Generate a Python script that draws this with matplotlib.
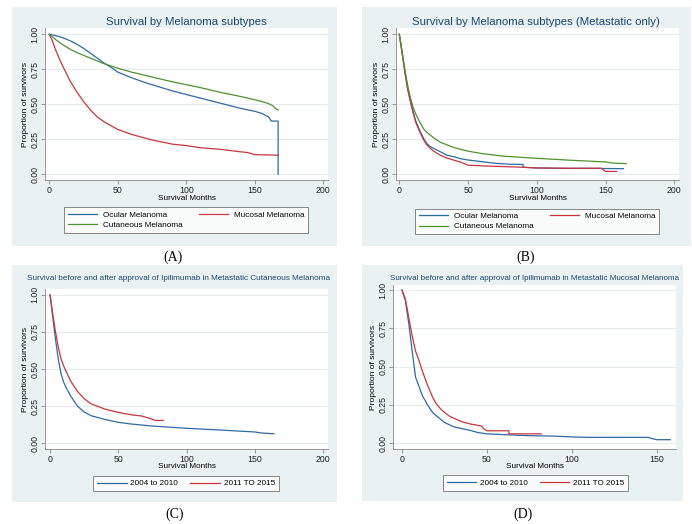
import matplotlib
matplotlib.use("Agg")
import matplotlib.pyplot as plt
from matplotlib.patches import Rectangle

W, H = 692, 524

# ---- data ----
# (A) all stages
a_ocular_x = [0, 5, 10, 15, 20, 25, 30, 35, 40, 45, 50, 60, 70, 80, 90, 100, 110, 120, 130, 140, 145, 150, 155, 158, 160, 162, 167, 167]
a_ocular_y = [1.0, 0.99, 0.975, 0.955, 0.93, 0.90, 0.865, 0.83, 0.795, 0.765, 0.73, 0.69, 0.655, 0.625, 0.595, 0.57, 0.545, 0.52, 0.495, 0.47, 0.46, 0.45, 0.435, 0.42, 0.41, 0.38, 0.38, 0.0]
a_mucosal_x = [0, 2, 5, 8, 10, 15, 20, 25, 30, 35, 40, 50, 60, 75, 90, 100, 110, 125, 140, 145, 150, 160, 167]
a_mucosal_y = [1.0, 0.96, 0.88, 0.81, 0.77, 0.67, 0.59, 0.52, 0.46, 0.41, 0.375, 0.32, 0.285, 0.245, 0.215, 0.205, 0.19, 0.178, 0.16, 0.155, 0.14, 0.138, 0.136]
a_cutan_x = [0, 5, 10, 15, 20, 30, 40, 50, 60, 75, 90, 100, 110, 125, 140, 150, 155, 160, 163, 165, 167]
a_cutan_y = [1.0, 0.96, 0.925, 0.895, 0.87, 0.83, 0.79, 0.758, 0.73, 0.695, 0.66, 0.64, 0.62, 0.585, 0.555, 0.532, 0.52, 0.505, 0.49, 0.47, 0.46]

# (B) metastatic only
b_ocular_x = [0, 2, 4, 6, 8, 10, 12, 15, 18, 20, 22, 25, 30, 35, 40, 45, 50, 60, 70, 80, 90, 90, 100, 120, 140, 163]
b_ocular_y = [1, 0.87, 0.74, 0.62, 0.53, 0.45, 0.38, 0.31, 0.25, 0.22, 0.2, 0.185, 0.16, 0.135, 0.125, 0.11, 0.102, 0.09, 0.078, 0.072, 0.07, 0.05, 0.045, 0.042, 0.042, 0.04]
b_mucosal_x = [0, 2, 4, 6, 8, 10, 12, 15, 18, 20, 22, 25, 30, 35, 40, 45, 50, 60, 75, 90, 100, 125, 147, 150, 158]
b_mucosal_y = [1, 0.87, 0.73, 0.61, 0.52, 0.44, 0.37, 0.3, 0.24, 0.21, 0.19, 0.165, 0.135, 0.115, 0.1, 0.085, 0.065, 0.06, 0.055, 0.05, 0.045, 0.043, 0.043, 0.02, 0.02]
b_cutan_x = [0, 2, 4, 6, 8, 10, 12, 15, 18, 20, 25, 30, 40, 50, 60, 75, 90, 100, 125, 150, 155, 165]
b_cutan_y = [1, 0.88, 0.75, 0.64, 0.55, 0.48, 0.43, 0.37, 0.32, 0.3, 0.26, 0.228, 0.19, 0.165, 0.148, 0.13, 0.12, 0.114, 0.1, 0.088, 0.08, 0.076]

# (C) metastatic cutaneous, before / after ipilimumab
c_early_x = [0, 2, 4, 6, 8, 10, 12, 15, 20, 25, 30, 40, 50, 60, 75, 100, 125, 150, 155, 164]
c_early_y = [1, 0.85, 0.7, 0.57, 0.47, 0.41, 0.37, 0.32, 0.25, 0.21, 0.185, 0.16, 0.14, 0.128, 0.115, 0.1, 0.088, 0.075, 0.068, 0.063]
c_late_x = [0, 2, 4, 6, 8, 10, 12, 15, 20, 25, 30, 40, 50, 60, 67, 72, 77, 83]
c_late_y = [1, 0.87, 0.75, 0.65, 0.57, 0.52, 0.48, 0.42, 0.35, 0.30, 0.265, 0.23, 0.207, 0.19, 0.183, 0.17, 0.153, 0.153]

# (D) metastatic mucosal, before / after ipilimumab
d_early_x = [0, 2, 4, 6, 8, 10, 12, 15, 18, 20, 25, 30, 35, 40, 45, 50, 60, 75, 90, 100, 110, 145, 147, 150, 158]
d_early_y = [1, 0.93, 0.78, 0.6, 0.43, 0.37, 0.31, 0.25, 0.2, 0.18, 0.135, 0.108, 0.095, 0.083, 0.068, 0.06, 0.055, 0.048, 0.045, 0.04, 0.037, 0.037, 0.03, 0.022, 0.022]
d_late_x = [0, 2, 4, 6, 8, 10, 12, 15, 18, 20, 23, 25, 28, 30, 35, 40, 45, 47, 48, 50, 63, 63, 82]
d_late_y = [1, 0.94, 0.82, 0.7, 0.6, 0.54, 0.47, 0.38, 0.3, 0.26, 0.22, 0.2, 0.175, 0.165, 0.14, 0.125, 0.115, 0.11, 0.095, 0.08, 0.08, 0.06, 0.06]

subtype_labels = ["Ocular Melanoma", "Mucosal Melanoma", "Cutaneous Melanoma"]
period_labels = ["2004 to 2010", "2011 TO 2015"]

BLUE = "#2f6aa3"
RED = "#c8353f"
GREEN = "#4f9130"
BG = "#e9f1f2"
TITLE_C = "#1a476f"

plt.rcParams["font.family"] = ["Liberation Sans", "DejaVu Sans"]

fig = plt.figure(figsize=(W / 100, H / 100), dpi=100)


def fr(x0, y0, x1, y1):
    # pixel box (top-left origin) -> figure fraction rect
    return [x0 / W, 1 - y1 / H, (x1 - x0) / W, (y1 - y0) / H]


def panel(box, axbox, xlim, ylim, xticks, title, tsize, tx, ty, xl_y, caption, cap_xy):
    fig.patches.append(Rectangle((box[0] / W, 1 - box[3] / H), (box[2] - box[0]) / W,
                                 (box[3] - box[1]) / H, transform=fig.transFigure,
                                 facecolor=BG, edgecolor="none", zorder=-5))
    ax = fig.add_axes(fr(*axbox))
    ax.set_zorder(2)
    ax.set_facecolor("white")
    ax.set_xlim(*xlim)
    ax.set_ylim(*ylim)
    ax.set_xticks(xticks)
    ax.set_yticks([0, 0.25, 0.5, 0.75, 1.0])
    ax.set_yticklabels(["0.00", "0.25", "0.50", "0.75", "1.00"])
    for s in ["top", "right"]:
        ax.spines[s].set_visible(False)
    for s in ["left", "bottom"]:
        ax.spines[s].set_color("#888888")
        ax.spines[s].set_linewidth(0.6)
    ax.tick_params(labelsize=6.3, length=3, width=0.6, color="#888888", pad=1, labelcolor="#222222")
    ax.tick_params(axis="y", labelrotation=90)
    for lbl in ax.get_yticklabels():
        lbl.set_va("center")
    ax.grid(axis="y", color="#e4eced", linewidth=0.8)
    ax.set_axisbelow(True)
    ax.set_ylabel("Proportion of survivors", fontsize=6.0, labelpad=1)
    fig.text(((axbox[0] + axbox[2]) / 2) / W, 1 - xl_y / H, "Survival Months",
             fontsize=5.9, ha="center", va="center")
    fig.text(tx / W, 1 - ty / H, title, fontsize=tsize, color=TITLE_C, ha="center", va="center")
    fig.text(cap_xy[0] / W, 1 - cap_xy[1] / H, caption, fontsize=10,
             family="Liberation Serif", ha="center", va="center")
    return ax


def add_legend(ax, handles, labels, lb, tpad, cspace):
    x0, y0, x1, y1 = lb
    lg = ax.legend(handles, labels, ncols=2, loc="center",
                   bbox_to_anchor=(x0 / W, 1 - y1 / H, (x1 - x0) / W, (y1 - y0) / H),
                   bbox_transform=fig.transFigure, fontsize=5.9, frameon=True,
                   fancybox=False, handlelength=3.6, borderpad=0.45, labelspacing=0.3,
                   columnspacing=cspace, handletextpad=tpad, borderaxespad=0)
    lg.get_frame().set_edgecolor("#555555")
    lg.get_frame().set_linewidth(0.6)
    return lg


lw = 0.9

# (A)
ax = panel((12, 7, 337, 246), (45, 28.3, 328.3, 180), (-3.1, 203.6), (-0.041, 1.043),
           [0, 50, 100, 150, 200], "Survival by Melanoma subtypes", 8.2, 186, 21.7, 199,
           "(A)", (173, 257))
h1, = ax.plot(a_ocular_x, a_ocular_y, color=BLUE, lw=lw)
h2, = ax.plot(a_mucosal_x, a_mucosal_y, color=RED, lw=lw)
h3, = ax.plot(a_cutan_x, a_cutan_y, color=GREEN, lw=lw)
add_legend(ax, [h1, h3, h2], [subtype_labels[0], subtype_labels[2], subtype_labels[1]],
           (62, 207, 310, 233), 0.65, 2.0)

# (B)
ax = panel((362, 7, 691, 246), (396, 28.3, 679, 180), (-2.4, 203.4), (-0.041, 1.043),
           [0, 50, 100, 150, 200], "Survival by Melanoma subtypes (Metastatic only)", 8.2, 536, 21.7, 199,
           "(B)", (526, 257))
h1, = ax.plot(b_ocular_x, b_ocular_y, color=BLUE, lw=lw)
h2, = ax.plot(b_mucosal_x, b_mucosal_y, color=RED, lw=lw)
h3, = ax.plot(b_cutan_x, b_cutan_y, color=GREEN, lw=lw)
add_legend(ax, [h1, h3, h2], [subtype_labels[0], subtype_labels[2], subtype_labels[1]],
           (413, 208, 661, 235), 0.65, 2.0)

# (C)
ax = panel((12, 265, 337, 502), (45, 289, 328, 449), (-3.7, 203.7), (-0.04, 1.04),
           [0, 50, 100, 150, 200],
           "Survival before and after approval of Ipilimumab in Metastatic Cutaneous Melanoma",
           5.9, 179, 279, 467, "(C)", (175, 514))
h1, = ax.plot(c_early_x, c_early_y, color=BLUE, lw=lw)
h2, = ax.plot(c_late_x, c_late_y, color=RED, lw=lw)
add_legend(ax, [h1, h2], period_labels, (89, 475, 283, 492), 0.45, 1.5)

# (D)
ax = panel((362, 265, 683, 501), (393, 285, 676, 449), (-5.3, 161.4), (-0.039, 1.033),
           [0, 50, 100, 150],
           "Survival before and after approval of Ipilimumab in Metastatic Mucosal Melanoma",
           5.8, 534, 279, 467, "(D)", (523, 514))
h1, = ax.plot(d_early_x, d_early_y, color=BLUE, lw=lw)
h2, = ax.plot(d_late_x, d_late_y, color=RED, lw=lw)
add_legend(ax, [h1, h2], period_labels, (440, 475, 631, 491), 0.45, 1.5)

fig.savefig("out.png", dpi=100)
